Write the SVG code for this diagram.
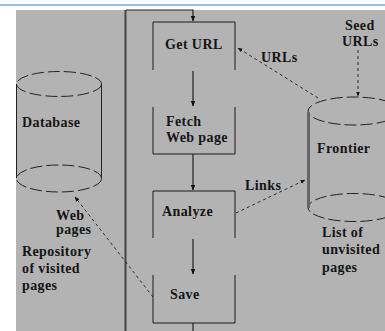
<svg xmlns="http://www.w3.org/2000/svg" width="385" height="331" viewBox="0 0 385 331">
<defs>
<style>
.t{font-family:"Liberation Serif","Times New Roman",serif;font-weight:bold;font-size:14px;letter-spacing:0.4px;fill:#151515}
.box{fill:none;stroke:#1a1a1a;stroke-width:1}
.cyl{fill:none;stroke:#222;stroke-width:1}
.dash{fill:none;stroke:#2a2a2a;stroke-width:1;stroke-dasharray:3,3}
.flow{fill:none;stroke:#222;stroke-width:1.2}
</style>
<marker id="ah" viewBox="0 0 10 10" refX="9" refY="5" markerWidth="5" markerHeight="5" orient="auto-start-reverse">
<path d="M0,1 L10,5 L0,9 z" fill="#111"/>
</marker>
</defs>
<rect x="0" y="0" width="385" height="331" fill="#ffffff"/>
<line x1="0" y1="5" x2="385" y2="5" stroke="#7ba7d8" stroke-width="1.5"/>
<rect x="16" y="10" width="369" height="321" fill="#b3b3b3"/>

<g id="loop">
<line x1="125.5" y1="10" x2="125.5" y2="331" stroke="#444" stroke-width="2"/>
</g>

<g id="getURL">
<path class="box" d="M153,70 V22 H235 V70"/>
<text class="t" x="165" y="49">Get URL</text>
</g>
<g id="fetch">
<path class="box" d="M153,107 V154 H235 V107"/>
<text class="t" x="166" y="126">Fetch</text>
<text class="t" x="166" y="142">Web page</text>
</g>
<g id="analyze">
<path class="box" d="M153,238 V191 H235 V238"/>
<text class="t" x="162" y="216">Analyze</text>
</g>
<g id="save">
<path class="box" d="M153,275 V323 H235 V275"/>
<text class="t" x="170" y="299">Save</text>
</g>

<g id="database">
<ellipse class="cyl" cx="59" cy="84" rx="42.5" ry="12.5" stroke-dasharray="12,4"/>
<ellipse class="cyl" cx="59" cy="178.5" rx="42.5" ry="13.5" stroke-dasharray="12,4"/>
<line class="cyl" x1="16.5" y1="84" x2="16.5" y2="178"/>
<line class="cyl" x1="101.5" y1="84" x2="101.5" y2="178"/>
<text class="t" x="22" y="127" font-size="13">Database</text>
<text class="t" x="22" y="256">Repository</text>
<text class="t" x="22" y="273">of visited</text>
<text class="t" x="22" y="290">pages</text>
</g>

<g id="frontier">
<ellipse class="cyl" cx="354" cy="111" rx="46" ry="14" stroke-dasharray="12,4"/>
<ellipse class="cyl" cx="354" cy="207.5" rx="46" ry="14" stroke-dasharray="12,4"/>
<line x1="308.5" y1="112" x2="308.5" y2="208" stroke="#666" stroke-width="3"/>
<text class="t" x="317" y="153">Frontier</text>
<text class="t" x="322" y="237">List of</text>
<text class="t" x="322" y="254">unvisited</text>
<text class="t" x="322" y="272">pages</text>
</g>

<g id="connectors">
<path class="flow" d="M126,10 H193 V21" marker-end="url(#ah)"/>
<line class="flow" x1="193" y1="71" x2="193" y2="106" marker-end="url(#ah)"/>
<line class="flow" x1="193" y1="154" x2="193" y2="190" marker-end="url(#ah)"/>
<line class="flow" x1="193" y1="239" x2="193" y2="274" marker-end="url(#ah)"/>
<line class="flow" x1="193" y1="323" x2="193" y2="331"/>
<line class="dash" x1="318" y1="98" x2="238" y2="48" marker-end="url(#ah)"/>
<line class="dash" x1="358" y1="50" x2="358" y2="96" stroke-width="2" marker-end="url(#ah)"/>
<line class="dash" x1="236" y1="213" x2="305" y2="180" marker-end="url(#ah)"/>
<line class="dash" x1="153" y1="297" x2="75" y2="197" marker-end="url(#ah)"/>
<text class="t" x="261" y="62">URLs</text>
<text class="t" x="345" y="30">Seed</text>
<text class="t" x="342" y="46">URLs</text>
<text class="t" x="245" y="190">Links</text>
<text class="t" x="56" y="220">Web</text>
<text class="t" x="56" y="234">pages</text>
</g>
</svg>
